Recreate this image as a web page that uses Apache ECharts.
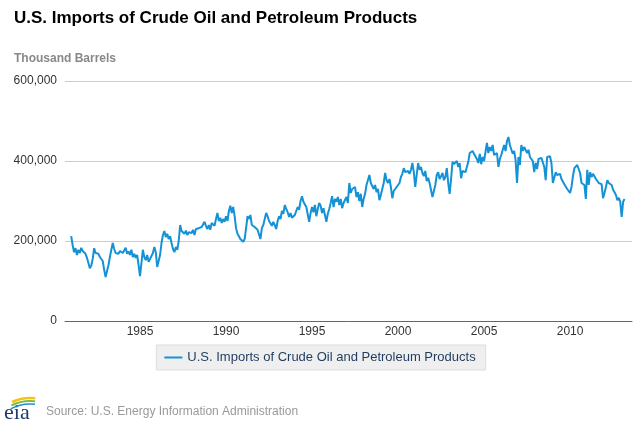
<!DOCTYPE html>
<html>
<head>
<meta charset="utf-8">
<script src="https://cdn.jsdelivr.net/npm/echarts@6/dist/echarts.min.js"></script>
<style>
html,body{margin:0;padding:0;background:#fff;}
#chart{width:640px;height:427px;}
</style>
</head>
<body>
<div id="chart"></div>
<script>
// Monthly U.S. imports (thousand barrels), January 1981 onward
var startYear = 1981;
var imports = [
  212,190,172,182,165,178,170,183,175,180,168,158, // 1981
  145,132,138,155,182,170,165,168,160,165,150,128, // 1982
  110,125,140,160,178,195,180,170,172,168,175,170, // 1983
  170,175,183,168,174,165,178,160,168,158,165,140, // 1984
  112,145,178,160,152,165,148,155,160,170,185,172, // 1985
  135,150,165,195,215,225,210,218,205,212,195,180, // 1986
  172,185,178,200,240,225,222,218,226,215,222,218, // 1987
  220,228,215,230,225,232,228,235,230,248,238,230, // 1988
  240,228,245,250,238,255,270,250,258,245,255,248, // 1989
  262,250,275,288,270,285,262,232,218,212,205,200, // 1990
  198,205,232,262,255,265,240,245,235,238,228,232, // 1991
  205,232,240,255,270,262,250,255,238,248,240,230, // 1992
  250,262,255,275,268,290,280,272,260,270,258,262, // 1993
  265,270,285,278,300,312,298,302,285,290,248,270, // 1994
  285,272,290,262,280,295,288,270,282,265,248,268, // 1995
  280,295,312,285,305,298,310,290,305,282,295,300, // 1996
  310,295,345,320,330,325,335,310,322,300,318,285, // 1997
  305,318,340,335,365,345,350,330,340,322,330,302, // 1998
  315,330,345,370,352,345,355,335,307,325,330,335, // 1999
  335,345,360,368,382,372,370,375,368,378,395,372, // 2000
  335,365,395,378,385,370,362,375,350,358,345,340, // 2001
  310,325,340,365,372,355,362,370,352,360,382,345, // 2002
  318,355,398,392,395,400,385,395,357,375,370,372, // 2003
  385,398,420,415,425,418,422,405,395,418,392,410, // 2004
  400,405,445,420,435,425,440,415,410,420,385,405, // 2005
  415,420,440,425,450,460,440,445,418,425,402,345, // 2006
  410,390,440,425,435,430,420,428,410,405,400,372, // 2007
  395,380,405,400,408,410,385,352,410,405,412,395, // 2008
  345,350,372,365,360,368,355,360,342,338,330,328, // 2009
  320,335,362,382,378,390,385,370,345,350,340,305, // 2010
  378,340,372,360,368,362,355,350,345,340,342,307, // 2011
  320,335,352,345,348,340,328,322,315,302,308,298, // 2012
  260,298,305                                      // 2013
];
var yearTicks = [1985, 1990, 1995, 2000, 2005, 2010];
var seriesName = 'U.S. Imports of Crude Oil and Petroleum Products';

var data = imports.map(function (v, i) {
  return [startYear + i / 12, v * 1000];
});

var chart = echarts.init(document.getElementById('chart'), null, {renderer: 'canvas'});
var FONT = '"Liberation Sans", Arial, sans-serif';

chart.setOption({
  animation: false,
  backgroundColor: '#ffffff',
  textStyle: {fontFamily: FONT},
  title: {
    text: 'U.S. Imports of Crude Oil and Petroleum Products',
    left: 14,
    top: 10,
    padding: 0,
    textStyle: {fontFamily: FONT, fontSize: 17, fontWeight: 'bold', color: '#000000'}
  },
  legend: {
    left: 'center',
    top: 345,
    data: [seriesName],
    backgroundColor: '#efefef',
    borderColor: '#dddddd',
    borderWidth: 1,
    padding: [6, 10, 6, 8],
    itemWidth: 18,
    itemHeight: 13,
    itemGap: 6,
    icon: 'path://M0,5.5 L18,5.5 L18,7.5 L0,7.5 Z',
    textStyle: {fontFamily: FONT, fontSize: 13, color: '#1f3b5e'}
  },
  grid: {left: 65, right: 8, top: 81, bottom: 106, containLabel: false},
  xAxis: {
    type: 'value',
    min: 1980.64,
    max: 2013.6,
    axisLine: {show: true, lineStyle: {color: '#666666', width: 1}},
    axisTick: {show: false},
    splitLine: {show: false},
    axisLabel: {
      customValues: yearTicks,
      color: '#333333',
      fontSize: 12,
      margin: 5,
      fontFamily: FONT,
      formatter: function (v) { return String(Math.round(v)); }
    }
  },
  yAxis: {
    type: 'value',
    min: 0,
    max: 600000,
    interval: 200000,
    axisLine: {show: false},
    axisTick: {show: false},
    splitLine: {show: true, lineStyle: {color: '#cccccc', width: 1}},
    axisLabel: {
      color: '#333333',
      fontSize: 12,
      margin: 8,
      fontFamily: FONT,
      formatter: function (v) { return v.toLocaleString('en-US'); }
    }
  },
  graphic: [
    {
      type: 'text', left: 14, top: 53,
      style: {text: 'Thousand Barrels', fill: '#888888', font: 'bold 12px ' + FONT}
    },
    {
      type: 'text', left: 46, top: 406,
      style: {text: 'Source: U.S. Energy Information Administration', fill: '#999999', font: '12px ' + FONT}
    },
    {
      type: 'text', left: 4, top: 402,
      style: {text: 'eia', fill: '#1e3a6b', font: '22px "Liberation Serif", "DejaVu Serif", serif'}
    },
    {
      type: 'arc', shape: {cx: 30, cy: 440, r: 42, startAngle: -Math.PI * 0.64, endAngle: -Math.PI * 0.46},
      style: {stroke: '#f2c31b', lineWidth: 2.5, fill: null}
    },
    {
      type: 'arc', shape: {cx: 30, cy: 442, r: 41, startAngle: -Math.PI * 0.65, endAngle: -Math.PI * 0.46},
      style: {stroke: '#7cbd43', lineWidth: 2, fill: null}
    },
    {
      type: 'arc', shape: {cx: 30, cy: 444, r: 40, startAngle: -Math.PI * 0.66, endAngle: -Math.PI * 0.46},
      style: {stroke: '#2a8bd0', lineWidth: 1.5, fill: null}
    }
  ],
  series: [{
    name: seriesName,
    type: 'line',
    data: data,
    showSymbol: false,
    symbol: 'none',
    lineStyle: {color: '#1592d6', width: 2},
    itemStyle: {color: '#1592d6'}
  }]
});
</script>
</body>
</html>
